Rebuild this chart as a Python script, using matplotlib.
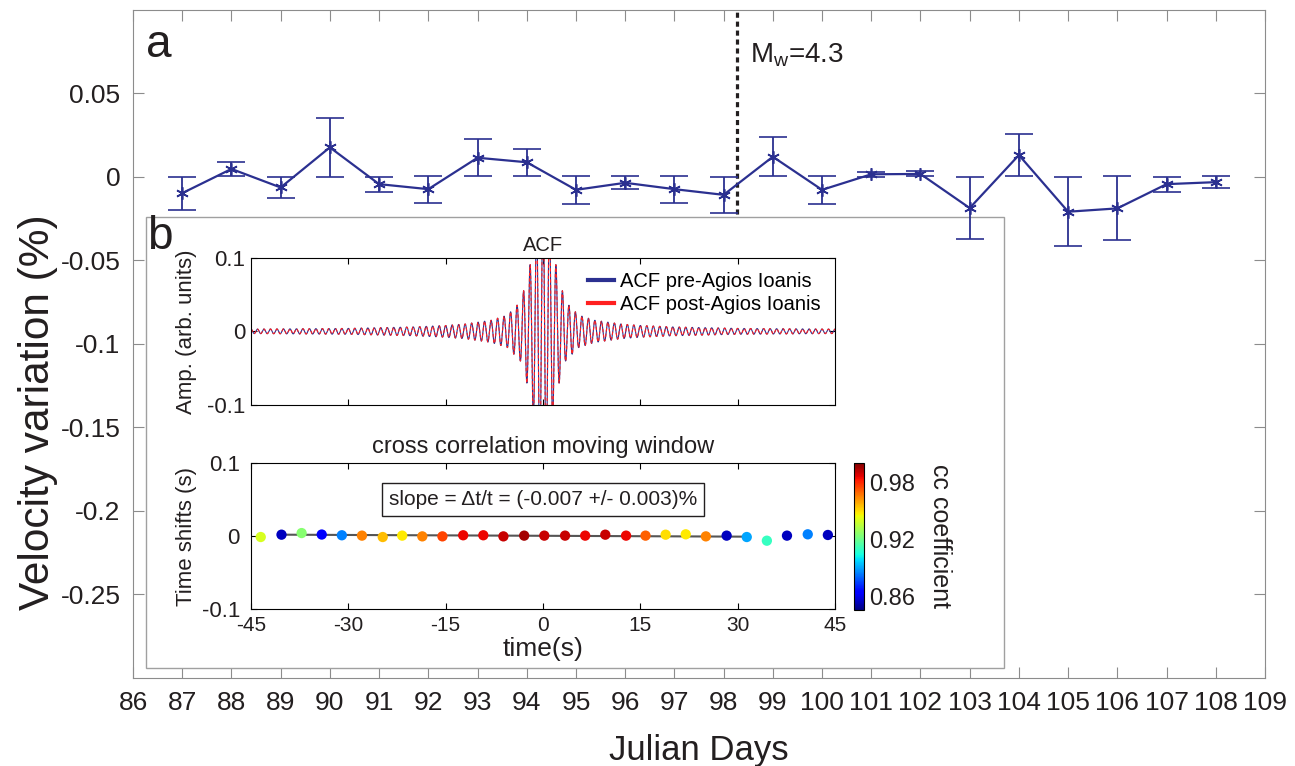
import numpy as np
import matplotlib
matplotlib.use("Agg")
import matplotlib.pyplot as plt
from matplotlib.patches import Rectangle
from matplotlib.lines import Line2D

plt.rcParams['font.family'] = ['Liberation Sans', 'DejaVu Sans']
plt.rcParams['mathtext.fontset'] = 'custom'
plt.rcParams['mathtext.rm'] = 'Liberation Sans'
plt.rcParams['axes.unicode_minus'] = False

# ---- panel a: daily velocity variation ----
days = list(range(87, 109))
dv = [-0.0099, 0.0046, -0.0065, 0.0175, -0.0045, -0.0075, 0.0113, 0.0086, -0.0079, -0.0037,
      -0.0075, -0.0109, 0.0119, -0.0079, 0.0014, 0.0016, -0.0188, 0.0129, -0.0210, -0.0190,
      -0.0045, -0.0033]
dv_err = [0.0099, 0.0042, 0.0065, 0.0178, 0.0045, 0.0080, 0.0111, 0.0081, 0.0083, 0.0040,
          0.0080, 0.0106, 0.0117, 0.0083, 0.0015, 0.0015, 0.0186, 0.0124, 0.0208, 0.0192,
          0.0045, 0.0034]
eq_day = 98.27
day_ticks = list(range(86, 110))
dv_ticks = [-0.25, -0.2, -0.15, -0.1, -0.05, 0, 0.05]
dv_labels = ['-0.25', '-0.2', '-0.15', '-0.1', '-0.05', '0', '0.05']

# ---- panel b: ACF envelope ----
acf_lag = [0, 1, 2, 2.5, 3.5, 5.5, 8, 12, 15, 20, 30, 45]
acf_env = [0.2, 0.15, 0.09, 0.07, 0.04, 0.022, 0.015, 0.010, 0.008, 0.006, 0.004, 0.003]
acf_period = 1.0
dvv = -0.00007

# moving window cross correlation
win_t = [-43.5, -40.3, -37.2, -34.1, -31.0, -27.9, -24.7, -21.7, -18.6, -15.5, -12.3, -9.2,
         -6.1, -2.9, 0.2, 3.4, 6.5, 9.6, 12.8, 15.8, 18.9, 22.0, 25.1, 28.3, 31.4, 34.5,
         37.6, 40.8, 43.9]
win_shift = [-0.0014, 0.0018, 0.0040, 0.0020, 0.0010, 0.0005, -0.0014, 0.0005, -0.0005, -0.0005,
             0.0010, 0.0010, -0.0005, 0.0005, 0.0005, 0.0005, 0.0005, 0.0018, 0.0005, 0.0005,
             0.0018, 0.0023, -0.0005, 0.0005, -0.0014, -0.0064, 0.0005, 0.0023, 0.0014]
win_cc = [0.940, 0.855, 0.925, 0.865, 0.885, 0.965, 0.955, 0.948, 0.965, 0.975, 0.985, 0.985,
          0.990, 0.995, 0.990, 0.990, 0.985, 0.990, 0.985, 0.970, 0.950, 0.948, 0.965, 0.855,
          0.890, 0.910, 0.855, 0.885, 0.855]
fit_t = [-40.3, 31.4]
fit_shift = [0.0018, -0.0009]

navy = '#2b3090'
txt = '#231f20'
W, H = 1295, 766

def fbox(l, t, r, b):
    return [l / W, 1 - b / H, (r - l) / W, (b - t) / H]

fig = plt.figure(figsize=(W / 100, H / 100), dpi=100)

ax = fig.add_axes(fbox(133, 9.5, 1265, 678))
ax.axvline(eq_day, ymin=0.68, color=txt, lw=2.3, ls=(0, (1.6, 1.2)), zorder=1)
ax.add_artist(Rectangle((146 / W, 1 - 668 / H), 858 / W, 451 / H, transform=fig.transFigure,
                        facecolor='white', edgecolor='#a0a0a0', lw=1, zorder=2))
ax.errorbar(days, dv, yerr=dv_err, color=navy, lw=1.6, elinewidth=1.3, capsize=10,
            capthick=1.3, marker=(6, 2, 0), ms=9, mew=1.2, zorder=3)
ax.set_xlim(86, 109)
ax.set_ylim(-0.3, 0.1)
ax.set_xticks(day_ticks)
ax.set_yticks(dv_ticks)
ax.set_yticklabels(dv_labels)
ax.tick_params(direction='in', top=True, right=True, length=8, color='#8c8c8c',
               labelsize=19, labelcolor=txt, pad=9)
for s in ax.spines.values():
    s.set_color('#8c8c8c')
ax.set_xlabel('Julian Days', fontsize=25, color=txt, labelpad=14)
ax.set_ylabel('Velocity variation (%)', fontsize=30.5, color=txt)
ax.yaxis.set_label_coords(-0.066, 0.398)
fig.text(146 / W, 1 - 45 / H, 'a', fontsize=33, color=txt, va='center')
fig.text(750 / W, 1 - 55 / H, r'M$_\mathregular{w}$=4.3', fontsize=20, color=txt, va='center')

# ---- inset b ----
fig.text(147 / W, 1 - 237 / H, 'b', fontsize=33, color=txt, va='center')

t = np.arange(-45, 45.001, 0.02)
env = np.interp(np.abs(t), acf_lag, acf_env)
acf_pre = env * np.cos(2 * np.pi * t / acf_period)
acf_post = env * np.cos(2 * np.pi * t * (1 + dvv) / acf_period)

ax1 = fig.add_axes(fbox(251, 257.7, 835, 405))
ax1.plot(t, acf_pre, color=navy, lw=0.8)
ax1.plot(t, acf_post, color='#ff2020', lw=0.8, ls=(0, (3, 2)))
ax1.set_xlim(-45, 45)
ax1.set_ylim(-0.1, 0.1)
ax1.set_xticks([-30, -15, 0, 15, 30])
ax1.set_xticklabels([])
ax1.set_yticks([-0.1, 0, 0.1])
ax1.set_yticklabels(['-0.1', '0', '0.1'])
ax1.tick_params(direction='in', top=True, right=True, length=4, labelsize=16, labelcolor=txt, pad=4)
ax1.set_title('ACF', fontsize=14.5, color=txt, pad=5)
ax1.set_ylabel('Amp. (arb. units)', fontsize=16, color=txt)
ax1.yaxis.set_label_coords(-0.092, 0.5)
hl = [Line2D([], [], color=navy, lw=3), Line2D([], [], color='#ff2020', lw=3)]
ax1.legend(hl, ['ACF pre-Agios Ioanis', 'ACF post-Agios Ioanis'], loc='upper right',
           frameon=False, fontsize=14.5, handlelength=1.3, handletextpad=0.3,
           borderaxespad=0.3, labelspacing=0.2)

ax2 = fig.add_axes(fbox(251, 462.7, 835, 609.3))
ax2.plot(fit_t, fit_shift, color='#555555', lw=1.5, zorder=2)
sc = ax2.scatter(win_t, win_shift, c=win_cc, cmap='jet', vmin=0.846, vmax=1.0, s=55,
                 zorder=3, linewidths=0)
ax2.set_xlim(-45, 45)
ax2.set_ylim(-0.1, 0.1)
ax2.set_xticks([-45, -30, -15, 0, 15, 30, 45])
ax2.set_yticks([-0.1, 0, 0.1])
ax2.set_yticklabels(['-0.1', '0', '0.1'])
ax2.tick_params(direction='in', top=True, right=True, length=4, labelcolor=txt)
ax2.tick_params(axis='y', labelsize=16, pad=8)
ax2.tick_params(axis='x', labelsize=15, pad=5)
ax2.set_title('cross correlation moving window', fontsize=17, color=txt, pad=7)
ax2.set_xlabel('time(s)', fontsize=19, color=txt, labelpad=1)
ax2.set_ylabel('Time shifts (s)', fontsize=16, color=txt)
ax2.yaxis.set_label_coords(-0.092, 0.5)
ax2.text(0, 0.05, 'slope = \u0394t/t = (-0.007 +/- 0.003)%', fontsize=15, color=txt,
         ha='center', va='center',
         bbox=dict(boxstyle='square,pad=0.35', facecolor='white', edgecolor=txt, lw=1))

cax = fig.add_axes(fbox(854, 463, 864, 610))
cb = fig.colorbar(sc, cax=cax, ticks=[0.86, 0.92, 0.98])
cb.ax.tick_params(labelsize=17, labelcolor=txt, length=0, pad=4)
cax.text(8.6, 0.5, 'cc coefficient', rotation=270, transform=cax.transAxes,
         ha='center', va='center', fontsize=18, color=txt)

fig.savefig('out.png', dpi=100)
